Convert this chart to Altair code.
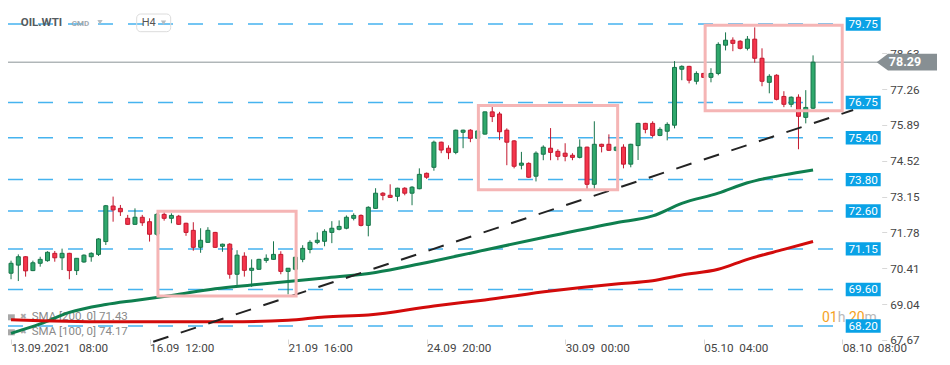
import json
import altair as alt
import pandas as pd

# ---------------- data ----------------
opens = [70.22, 70.53, 70.85, 70.32, 70.60, 70.70, 70.98, 70.81, 70.98, 70.32,
         70.65, 70.85, 70.94, 71.43, 72.79, 72.70, 72.32, 72.09, 72.36, 72.19,
         71.71, 72.47, 72.32, 72.40, 72.13, 71.86, 71.21, 71.40, 71.78, 71.25,
         71.33, 70.18, 70.87, 70.33, 70.37, 70.71, 70.75, 70.94, 70.29, 70.37,
         70.75, 71.13, 71.40, 71.44, 71.78, 71.90, 71.94, 72.32, 72.43, 72.05,
         72.70, 73.28, 73.20, 73.16, 73.47, 73.28, 73.45, 74.04, 74.27, 75.23,
         75.00, 74.84, 75.61, 75.69, 75.38, 75.54, 76.39, 76.31, 75.69, 75.28,
         74.35, 74.42, 73.93, 74.77, 75.00, 74.88, 74.81, 74.73, 74.65, 75.04,
         73.62, 75.15, 75.15, 74.92, 75.04, 74.39, 75.10, 75.95, 75.95, 75.49,
         75.65, 75.88, 78.02, 78.13, 77.56, 77.86, 77.71, 77.86, 78.94, 79.13,
         79.09, 78.82, 79.17, 78.44, 77.52, 77.79, 76.98, 76.68, 76.95, 76.18,
         76.53]
highs = [70.70, 70.94, 70.87, 70.70, 70.85, 71.06, 71.07, 71.16, 71.00, 70.80,
         70.94, 71.02, 71.56, 72.83, 73.15, 72.83, 72.45, 72.70, 72.45, 72.32,
         72.52, 72.55, 72.51, 72.45, 72.15, 72.17, 71.94, 71.98, 71.80, 71.35,
         71.37, 71.10, 71.02, 70.75, 70.77, 70.94, 71.44, 71.06, 70.41, 70.87,
         71.29, 71.48, 71.78, 71.90, 72.21, 72.24, 72.43, 72.51, 72.47, 72.78,
         73.47, 73.32, 73.62, 73.49, 73.51, 73.55, 74.23, 74.07, 75.29, 75.25,
         75.11, 75.71, 75.71, 75.73, 75.70, 76.40, 76.59, 76.39, 75.76, 75.31,
         74.86, 74.46, 74.88, 75.11, 75.77, 74.96, 75.19, 74.81, 75.34, 75.06,
         76.03, 75.17, 75.53, 75.06, 75.15, 75.17, 75.97, 75.97, 76.03, 75.80,
         75.99, 78.33, 78.17, 78.15, 77.94, 77.88, 78.06, 79.05, 79.43, 79.24,
         79.13, 79.29, 79.62, 78.82, 77.83, 77.83, 77.18, 76.98, 77.06, 77.22,
         78.55]
lows = [69.99, 69.92, 70.09, 70.30, 70.47, 70.66, 70.66, 70.34, 69.99, 70.15,
        70.62, 70.66, 70.88, 71.30, 72.19, 72.41, 72.07, 72.07, 72.03, 71.43,
        71.65, 72.23, 72.13, 72.07, 71.65, 71.08, 71.00, 71.38, 71.19, 71.04,
        70.01, 69.77, 70.09, 69.70, 70.35, 70.62, 70.73, 70.18, 69.41, 70.30,
        70.64, 70.98, 71.33, 71.25, 71.37, 71.86, 71.90, 72.24, 72.01, 71.63,
        72.68, 73.01, 73.10, 72.97, 73.20, 72.82, 73.43, 73.83, 74.14, 74.81,
        74.58, 74.77, 75.00, 75.23, 75.36, 75.52, 76.00, 75.31, 74.35, 74.23,
        74.19, 73.87, 73.73, 74.54, 74.54, 74.54, 74.50, 74.54, 74.61, 73.43,
        73.43, 74.84, 74.90, 74.88, 74.23, 74.27, 74.55, 75.57, 75.42, 75.46,
        75.30, 75.76, 77.60, 77.48, 77.44, 77.69, 77.52, 77.79, 78.74, 78.71,
        78.78, 78.74, 78.27, 77.37, 77.10, 76.83, 76.57, 76.57, 74.96, 75.95,
        76.49]
closes = [70.60, 70.85, 70.31, 70.62, 70.75, 71.02, 70.81, 70.98, 70.32, 70.79,
          70.91, 70.98, 71.53, 72.80, 72.64, 72.57, 72.09, 72.36, 72.15, 71.71,
          72.47, 72.32, 72.43, 72.09, 71.78, 71.21, 71.48, 71.86, 71.21, 71.33,
          70.18, 70.91, 70.33, 70.41, 70.75, 70.79, 70.94, 70.29, 70.41, 70.83,
          71.17, 71.40, 71.48, 71.82, 71.94, 72.01, 72.36, 72.43, 72.05, 72.74,
          73.28, 73.20, 73.12, 73.47, 73.28, 73.51, 74.00, 73.89, 75.23, 74.93,
          74.83, 75.69, 75.69, 75.38, 75.66, 76.39, 76.21, 75.63, 75.23, 74.31,
          74.43, 73.89, 74.81, 75.04, 74.84, 74.69, 74.69, 74.65, 75.04, 73.62,
          75.15, 75.07, 74.92, 75.04, 74.39, 75.15, 75.95, 75.72, 75.49, 75.72,
          75.91, 78.09, 78.13, 77.60, 77.86, 77.71, 77.86, 78.97, 79.13, 79.01,
          78.82, 79.17, 78.44, 77.56, 77.75, 76.87, 76.68, 76.95, 76.22, 76.56,
          78.29]

sma100_idx = [0, 4, 8, 13, 17, 22, 28, 33, 38, 43, 50, 56, 65, 74, 83, 88, 92, 97, 101, 106, 110]
sma100_val = [67.92, 68.28, 68.72, 69.02, 69.18, 69.37, 69.63, 69.77, 69.90, 70.04, 70.25,
              70.57, 71.11, 71.64, 72.15, 72.41, 72.89, 73.28, 73.68, 73.98, 74.17]
sma200_idx = [0, 13, 30, 38, 43, 49, 58, 65, 74, 83, 88, 92, 97, 101, 106, 110]
sma200_val = [68.44, 68.36, 68.36, 68.42, 68.55, 68.62, 68.97, 69.20, 69.54, 69.81,
              69.93, 70.15, 70.37, 70.75, 71.13, 71.43]

levels = [79.75, 76.75, 75.40, 73.80, 72.60, 71.15, 69.60, 68.20]
price_ticks = [67.67, 69.04, 70.41, 71.78, 73.15, 74.52, 75.89, 77.26, 78.63]
time_tick_idx = [0, 19, 38, 57, 76, 95, 114]
time_tick_labels = ["13.09.2021\u00a0\u00a0\u00a008:00", "16.09\u00a0\u00a012:00",
                    "21.09\u00a0\u00a016:00", "24.09\u00a0\u00a020:00",
                    "30.09\u00a0\u00a000:00", "05.10\u00a0\u00a004:00",
                    "08.10\u00a0\u00a008:00"]
trend_idx = [19.5, 115.5]
trend_val = [67.60, 76.46]
box_i1 = [20.15, 64.1, 95.2]
box_i2 = [39.1, 83.2, 114.0]
box_p1 = [72.59, 76.63, 79.70]
box_p2 = [69.35, 73.41, 76.43]
last_price = 78.29
symbol = "OIL.WTI"
timeframe = "H4"
countdown = ["01", "h", "20", "m"]

# ---------------- styles ----------------
FONT = "Roboto"
GREEN_F, GREEN_S = "#2fa86c", "#17744a"
RED_F, RED_S = "#f4354c", "#c3192f"
LEVEL_BLUE = "#0aa2e6"

df = pd.DataFrame({"i": list(range(len(opens))), "open": opens, "high": highs,
                   "low": lows, "close": closes})

xs = alt.Scale(domain=[0.27, 127.0], nice=False, zero=False)
ys = alt.Scale(domain=[67.016, 80.362], nice=False, zero=False)

label_expr = "%s[indexof(%s, datum.value)]" % (
    json.dumps(time_tick_labels, ensure_ascii=False), json.dumps(time_tick_idx))

xaxis = alt.Axis(values=time_tick_idx, labelExpr=label_expr, orient="bottom", offset=-18,
                 domain=False, grid=False, tickSize=5, tickColor="#d8d8d8",
                 labelPadding=3, labelBaseline="middle", labelAlign="left",
                 labelFont=FONT, labelFontSize=11.7, labelColor="#454545",
                 labelFlush=False, labelOverlap=False, title=None, zindex=0)
yaxis = alt.Axis(values=price_ticks, format=".2f", orient="right", offset=-60.3,
                 domain=False, grid=False, tickSize=5, tickColor="#d8d8d8",
                 labelPadding=3, labelFont=FONT, labelFontSize=11.7, labelColor="#454545",
                 labelFlush=False, labelOverlap=False, title=None, zindex=0)


def X(f):
    return alt.X(f, type="quantitative", scale=xs, axis=xaxis)


def Y(f):
    return alt.Y(f, type="quantitative", scale=ys, axis=yaxis)


def txt(s, x, y, **kw):
    return alt.Chart(pd.DataFrame({"t": [s]})).mark_text(font=FONT, **kw).encode(
        text="t:N", x=alt.value(x), y=alt.value(y))


up = "datum.close >= datum.open"

lv_df = pd.DataFrame({"lv": levels})
lp_df = pd.DataFrame({"lp": [last_price]})

level_rules = alt.Chart(lv_df).mark_rule(color="#45b3ef", strokeWidth=1.5, strokeDash=[15, 15]).encode(
    y=Y("lv"), x=alt.value(0), x2=alt.value(838))
price_line = alt.Chart(lp_df).mark_rule(color="#8b9396", strokeWidth=1).encode(
    y=Y("lp"), x=alt.value(0), x2=alt.value(872))

# legend (bottom left)
leg_df = pd.DataFrame({"t": ["SMA [200, 0] %.2f" % sma200_val[-1], "SMA [100, 0] %.2f" % sma100_val[-1]],
                       "y": [309.3, 324.3]})
leg_text = alt.Chart(leg_df).mark_text(font=FONT, fontSize=11.5, color="#8a8a8a", align="left",
                                       baseline="middle").encode(
    text="t:N", x=alt.value(23.7), y=alt.Y("y:Q", scale=None))
leg_icon = alt.Chart(leg_df).mark_tick(orient="horizontal", size=8, thickness=6, color="#a8a8a8",
                                       opacity=1).encode(x=alt.value(2.8), y=alt.Y("y:Q", scale=None))
leg_x = alt.Chart(leg_df.assign(t="\u2716")).mark_text(font="DejaVu Sans", fontSize=8, color="#a8a8a8",
                                                      baseline="middle").encode(
    text="t:N", x=alt.value(15.3), y=alt.Y("y:Q", scale=None))

cd_layers = [
    txt(countdown[0], 814, 310, fontSize=14, color="#f5a21e", align="left", baseline="middle"),
    txt(countdown[1], 829.7, 310, fontSize=14, color="#b9b9b9", align="left", baseline="middle"),
    txt(countdown[2], 840.9, 310, fontSize=14, color="#f5a21e", align="left", baseline="middle"),
    txt(countdown[3], 856.6, 310, fontSize=14, color="#b9b9b9", align="left", baseline="middle"),
]

wicks = alt.Chart(df).mark_rule(strokeWidth=1).encode(
    x=X("i"), y=Y("low"), y2=alt.Y2("high"),
    color=alt.condition(up, alt.value(GREEN_S), alt.value(RED_S)))
bodies = alt.Chart(df).mark_bar(width=4, strokeWidth=1).encode(
    x=X("i"), y=Y("open"), y2=alt.Y2("close"),
    fill=alt.condition(up, alt.value(GREEN_F), alt.value(RED_F)),
    stroke=alt.condition(up, alt.value(GREEN_S), alt.value(RED_S)))

sma100 = alt.Chart(pd.DataFrame({"i": sma100_idx, "p": sma100_val})).mark_line(
    color="#0f7f4f", strokeWidth=3, interpolate="monotone").encode(x=X("i"), y=Y("p"))
sma200 = alt.Chart(pd.DataFrame({"i": sma200_idx, "p": sma200_val})).mark_line(
    color="#d20b0b", strokeWidth=3, interpolate="monotone").encode(x=X("i"), y=Y("p"))
trend = alt.Chart(pd.DataFrame({"i": trend_idx, "p": trend_val})).mark_line(
    color="#232323", strokeWidth=2, strokeDash=[16, 13]).encode(x=X("i"), y=Y("p"))

boxes = alt.Chart(pd.DataFrame({"i1": box_i1, "i2": box_i2, "p1": box_p1, "p2": box_p2})).mark_rect(
    fill="transparent", stroke="#f5b5b5", strokeWidth=3).encode(
    x=X("i1"), x2=alt.X2("i2"), y=Y("p1"), y2=alt.Y2("p2"))

lv_boxes = alt.Chart(lv_df).mark_tick(orient="horizontal", size=35, thickness=13.4,
                                      color=LEVEL_BLUE, opacity=1).encode(
    y=Y("lv"), x=alt.value(855.2))
lv_text = alt.Chart(lv_df).mark_text(font=FONT, fontSize=11.7, color="white", align="center",
                                     baseline="middle").encode(
    y=Y("lv"), x=alt.value(855.2), text=alt.Text("lv:Q", format=".2f"))

arrow_path = "M-1,0L-0.625,-0.277L1,-0.277L1,0.277L-0.625,0.277Z"
lp_box = alt.Chart(lp_df).mark_point(shape=arrow_path, size=3636, filled=True, color="#878f93",
                                     opacity=1, strokeWidth=0).encode(
    y=Y("lp"), x=alt.value(898.85))
lp_text = alt.Chart(lp_df).mark_text(font=FONT, fontSize=12.5, fontWeight="bold", color="white",
                                     align="center", baseline="middle").encode(
    y=Y("lp"), x=alt.value(897), text=alt.Text("lp:Q", format=".2f"))

# header
hdr = [
    txt(symbol, 12.7, 15.3, fontSize=11.5, fontWeight="bold", color="#545b60", align="left",
        baseline="middle"),
    txt("CMD", 63.7, 16, fontSize=8, fontWeight="bold", color="#a2aaaf", align="left",
        baseline="middle"),
    alt.Chart(pd.DataFrame({"a": [0]})).mark_point(shape="triangle-down", size=28, filled=True,
                                                   color="#b8bec2", opacity=1).encode(
        x=alt.value(92), y=alt.value(14.3)),
    alt.Chart(pd.DataFrame({"a": [0]})).mark_rect(fill="transparent", stroke="#dcdcdc",
                                                  strokeWidth=1, cornerRadius=4).encode(
        x=alt.value(128.7), x2=alt.value(162.7), y=alt.value(6), y2=alt.value(23.7)),
    txt(timeframe, 133.7, 15.3, fontSize=11, color="#555", align="left", baseline="middle"),
    alt.Chart(pd.DataFrame({"a": [0]})).mark_point(shape="triangle-down", size=28, filled=True,
                                                   color="#b8bec2", opacity=1).encode(
        x=alt.value(155.5), y=alt.value(14.8)),
]

chart = alt.layer(
    level_rules, price_line, leg_icon, leg_x, leg_text, *cd_layers,
    wicks, bodies, sma100, sma200, trend, boxes,
    lv_boxes, lv_text, lp_box, lp_text, *hdr
).properties(
    width=934, height=349, padding=0,
    autosize=alt.AutoSizeParams(type="none"), background="white"
).configure_view(strokeWidth=0)

chart.save("out.html", embed_options={"renderer": "svg", "actions": False})
